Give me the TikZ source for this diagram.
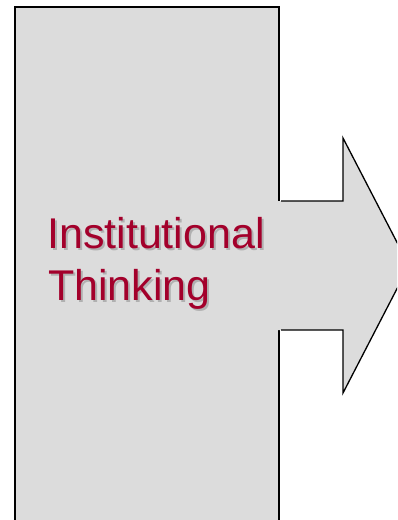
\documentclass[tikz,border=0pt]{standalone}
\usepackage{fontspec}
\setmainfont{Liberation Sans}
\definecolor{panelgray}{HTML}{DCDCDC}
\definecolor{titlered}{HTML}{A3002B}
\definecolor{shadowgray}{HTML}{B0B0B0}
\begin{document}
\begin{tikzpicture}[x=1pt,y=-1pt,
  outline/.style={draw=black,line width=1.3pt},
  titletext/.style={inner sep=0pt,anchor=base west,text=titlered,
    font=\fontsize{43}{52}\selectfont},
  shadowtext/.style={titletext,text=shadowgray}]
\useasboundingbox (0,0) rectangle (397,520);
\begin{scope}
\clip (0,0) rectangle (397,520);
% tall panel, running past the lower edge
\path[fill=panelgray,outline] (15,7) rectangle (279,540);
% block arrow leaving the panel; its fill hides the panel edge where they join
\path[fill=panelgray] (277.8,201) -- (343,201) -- (343,138) -- (409,265.5)
  -- (343,393) -- (343,330) -- (277.8,330) -- cycle;
\draw[outline,line join=miter] (281,201) -- (343,201) -- (343,138) -- (409,265.5)
  -- (343,393) -- (343,330) -- (281,330);
\end{scope}
% title with a soft drop shadow
\node[shadowtext] (s1) at (49,250) {Institutional};
\node[shadowtext] (s2) at (50,302) {Thinking};
\node[titletext] (t1) at (47,248) {Institutional};
\node[titletext] (t2) at (48,300) {Thinking};
\end{tikzpicture}
\end{document}
